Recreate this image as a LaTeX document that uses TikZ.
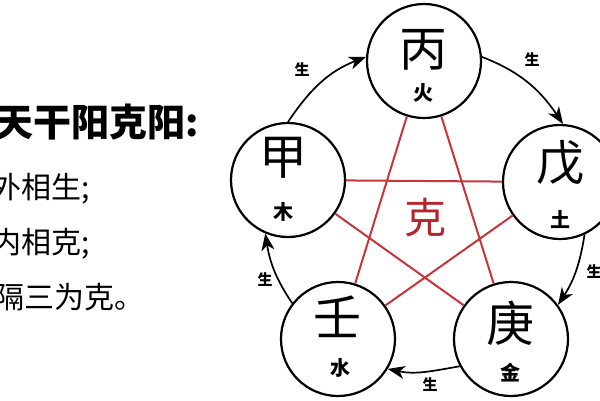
\documentclass[tikz,border=0pt]{standalone}
\usepackage{fontspec}
\setmainfont{Noto Sans CJK SC}
\usetikzlibrary{arrows.meta}
\definecolor{kered}{RGB}{200,52,58}
\definecolor{ketext}{RGB}{180,36,44}
\begin{document}
\begin{tikzpicture}[x=1pt,y=-1pt,
  elem/.style={circle,draw,line width=2.2pt,minimum size=114pt,inner sep=0pt},
  stem/.style={font=\fontsize{48}{48}\selectfont,inner sep=0pt},
  phase/.style={font=\bfseries\fontsize{20}{20}\selectfont,inner sep=0pt},
  kel/.style={draw=kered,line width=2pt},
  sheng/.style={line width=1.7pt,-{Stealth[length=17pt,width=13pt,inset=5pt]}},
  shenglab/.style={font=\bfseries\fontsize{15}{15}\selectfont,inner sep=0pt},
  lefttext/.style={anchor=west,inner sep=0pt}]
\clip (0,0) rectangle (600,400);
\fill[white] (0,0) rectangle (600,400);

% left text
\node[lefttext,font=\bfseries\fontsize{38}{38}\selectfont] (head) at (-5,122) {天干阳克阳:};
\node[lefttext,font=\fontsize{30}{30}\selectfont] (l1) at (-9,189) {外相生;};
\node[lefttext,font=\fontsize{30}{30}\selectfont] (l2) at (-9,244) {内相克;};
\node[lefttext,font=\fontsize{30}{30}\selectfont] (l3) at (-6,297) {隔三为克。};

% circles
\node[elem] (jia)  at (288,180) {};
\node[elem] (bing) at (424,61) {};
\node[elem] (wu)   at (560,182) {};
\node[elem] (geng) at (511,339) {};
\node[elem] (ren)  at (338,339) {};

% pentagram (ke)
\draw[kel] (bing) -- (ren);
\draw[kel] (bing) -- (geng);
\draw[kel] (jia) -- (wu);
\draw[kel] (jia) -- (geng);
\draw[kel] (wu) -- (ren);
\node[text=ketext,font=\fontsize{42}{42}\selectfont,inner sep=0pt] (ke) at (425,218) {克};

% texts
\node[stem]  (jiat)  at (283,158) {甲};
\node[phase] (jias)  at (283,212) {木};
\node[stem]  (bingt) at (423,50) {丙};
\node[phase] (bings) at (423,93) {火};
\node[stem]  (wut)   at (560,163) {戊};
\node[phase] (wus)   at (560,219) {土};
\node[stem]  (gengt) at (510,323) {庚};
\node[phase] (gengs) at (510,373) {金};
\node[stem]  (rent)  at (337,317) {壬};
\node[phase] (rens)  at (340,368) {水};

% sheng arrows
\draw[sheng] (jia.90)   to[out=56,in=201]  (bing.176);
\draw[sheng] (bing.4)   to[out=-21,in=124] (wu.87);
\draw[sheng] (wu.-65)   to[out=-99,in=57]  (geng.36);
\draw[sheng] (geng.208) to[out=190,in=-12] (ren.-31);
\draw[sheng] (ren.142)  to[out=124,in=-81] (jia.247);

\node[shenglab] (s1) at (302,70) {生};
\node[shenglab] (s2) at (532,60) {生};
\node[shenglab] (s3) at (594,272) {生};
\node[shenglab] (s4) at (430,385) {生};
\node[shenglab] (s5) at (265,280) {生};
\end{tikzpicture}
\end{document}
